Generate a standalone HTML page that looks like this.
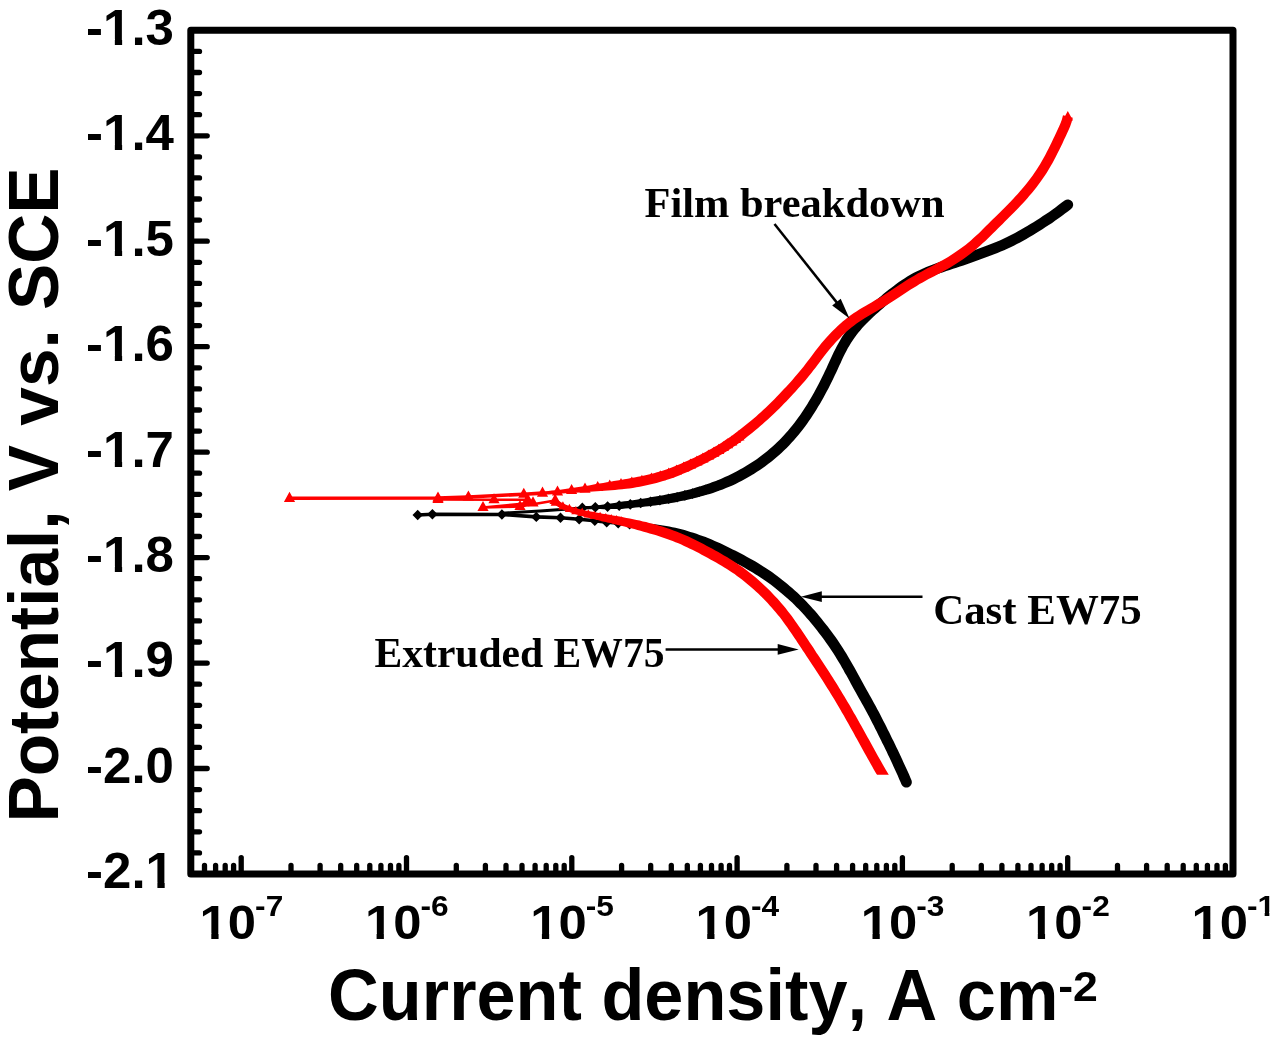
<!DOCTYPE html>
<html lang="en"><head><meta charset="utf-8">
<title>Potentiodynamic polarisation curves</title>
<style>
html,body{margin:0;padding:0;background:#fff;}
body{width:1280px;height:1037px;overflow:hidden;}
svg{display:block;filter:blur(0.35px);}
.sans{font-kerning:none;font-family:"Liberation Sans",Arial,Helvetica,sans-serif;font-weight:bold;fill:#000;}
.serif{font-family:"Liberation Serif","Times New Roman",Times,serif;font-weight:bold;fill:#000;}
</style></head><body>
<svg width="1280" height="1037" viewBox="0 0 1280 1037">
<rect x="0" y="0" width="1280" height="1037" fill="#ffffff"/>
<g stroke="#000" stroke-width="5.3" stroke-linecap="round" fill="none">
<line x1="190.8" y1="51.4" x2="199.5" y2="51.4"/>
<line x1="190.8" y1="72.5" x2="199.5" y2="72.5"/>
<line x1="190.8" y1="93.6" x2="199.5" y2="93.6"/>
<line x1="190.8" y1="114.7" x2="199.5" y2="114.7"/>
<line x1="190.8" y1="135.8" x2="207.2" y2="135.8"/>
<line x1="190.8" y1="156.9" x2="199.5" y2="156.9"/>
<line x1="190.8" y1="177.9" x2="199.5" y2="177.9"/>
<line x1="190.8" y1="199" x2="199.5" y2="199"/>
<line x1="190.8" y1="220.1" x2="199.5" y2="220.1"/>
<line x1="190.8" y1="241.2" x2="207.2" y2="241.2"/>
<line x1="190.8" y1="262.3" x2="199.5" y2="262.3"/>
<line x1="190.8" y1="283.4" x2="199.5" y2="283.4"/>
<line x1="190.8" y1="304.5" x2="199.5" y2="304.5"/>
<line x1="190.8" y1="325.6" x2="199.5" y2="325.6"/>
<line x1="190.8" y1="346.7" x2="207.2" y2="346.7"/>
<line x1="190.8" y1="367.8" x2="199.5" y2="367.8"/>
<line x1="190.8" y1="388.9" x2="199.5" y2="388.9"/>
<line x1="190.8" y1="410" x2="199.5" y2="410"/>
<line x1="190.8" y1="431.1" x2="199.5" y2="431.1"/>
<line x1="190.8" y1="452.2" x2="207.2" y2="452.2"/>
<line x1="190.8" y1="473.2" x2="199.5" y2="473.2"/>
<line x1="190.8" y1="494.3" x2="199.5" y2="494.3"/>
<line x1="190.8" y1="515.4" x2="199.5" y2="515.4"/>
<line x1="190.8" y1="536.5" x2="199.5" y2="536.5"/>
<line x1="190.8" y1="557.6" x2="207.2" y2="557.6"/>
<line x1="190.8" y1="578.7" x2="199.5" y2="578.7"/>
<line x1="190.8" y1="599.8" x2="199.5" y2="599.8"/>
<line x1="190.8" y1="620.9" x2="199.5" y2="620.9"/>
<line x1="190.8" y1="642" x2="199.5" y2="642"/>
<line x1="190.8" y1="663.1" x2="207.2" y2="663.1"/>
<line x1="190.8" y1="684.2" x2="199.5" y2="684.2"/>
<line x1="190.8" y1="705.3" x2="199.5" y2="705.3"/>
<line x1="190.8" y1="726.4" x2="199.5" y2="726.4"/>
<line x1="190.8" y1="747.4" x2="199.5" y2="747.4"/>
<line x1="190.8" y1="768.5" x2="207.2" y2="768.5"/>
<line x1="190.8" y1="789.6" x2="199.5" y2="789.6"/>
<line x1="190.8" y1="810.7" x2="199.5" y2="810.7"/>
<line x1="190.8" y1="831.8" x2="199.5" y2="831.8"/>
<line x1="190.8" y1="852.9" x2="199.5" y2="852.9"/>
<line x1="204.5" y1="874" x2="204.5" y2="865.4"/>
<line x1="215.6" y1="874" x2="215.6" y2="865.4"/>
<line x1="225.2" y1="874" x2="225.2" y2="865.4"/>
<line x1="233.6" y1="874" x2="233.6" y2="865.4"/>
<line x1="241.2" y1="874" x2="241.2" y2="857.6"/>
<line x1="291" y1="874" x2="291" y2="865.4"/>
<line x1="320.1" y1="874" x2="320.1" y2="865.4"/>
<line x1="340.7" y1="874" x2="340.7" y2="865.4"/>
<line x1="356.7" y1="874" x2="356.7" y2="865.4"/>
<line x1="369.8" y1="874" x2="369.8" y2="865.4"/>
<line x1="380.9" y1="874" x2="380.9" y2="865.4"/>
<line x1="390.5" y1="874" x2="390.5" y2="865.4"/>
<line x1="398.9" y1="874" x2="398.9" y2="865.4"/>
<line x1="406.5" y1="874" x2="406.5" y2="857.6"/>
<line x1="456.3" y1="874" x2="456.3" y2="865.4"/>
<line x1="485.4" y1="874" x2="485.4" y2="865.4"/>
<line x1="506" y1="874" x2="506" y2="865.4"/>
<line x1="522" y1="874" x2="522" y2="865.4"/>
<line x1="535.1" y1="874" x2="535.1" y2="865.4"/>
<line x1="546.2" y1="874" x2="546.2" y2="865.4"/>
<line x1="555.8" y1="874" x2="555.8" y2="865.4"/>
<line x1="564.2" y1="874" x2="564.2" y2="865.4"/>
<line x1="571.8" y1="874" x2="571.8" y2="857.6"/>
<line x1="621.6" y1="874" x2="621.6" y2="865.4"/>
<line x1="650.7" y1="874" x2="650.7" y2="865.4"/>
<line x1="671.3" y1="874" x2="671.3" y2="865.4"/>
<line x1="687.3" y1="874" x2="687.3" y2="865.4"/>
<line x1="700.4" y1="874" x2="700.4" y2="865.4"/>
<line x1="711.5" y1="874" x2="711.5" y2="865.4"/>
<line x1="721.1" y1="874" x2="721.1" y2="865.4"/>
<line x1="729.5" y1="874" x2="729.5" y2="865.4"/>
<line x1="737.1" y1="874" x2="737.1" y2="857.6"/>
<line x1="786.9" y1="874" x2="786.9" y2="865.4"/>
<line x1="816" y1="874" x2="816" y2="865.4"/>
<line x1="836.6" y1="874" x2="836.6" y2="865.4"/>
<line x1="852.6" y1="874" x2="852.6" y2="865.4"/>
<line x1="865.7" y1="874" x2="865.7" y2="865.4"/>
<line x1="876.8" y1="874" x2="876.8" y2="865.4"/>
<line x1="886.4" y1="874" x2="886.4" y2="865.4"/>
<line x1="894.8" y1="874" x2="894.8" y2="865.4"/>
<line x1="902.4" y1="874" x2="902.4" y2="857.6"/>
<line x1="952.2" y1="874" x2="952.2" y2="865.4"/>
<line x1="981.3" y1="874" x2="981.3" y2="865.4"/>
<line x1="1001.9" y1="874" x2="1001.9" y2="865.4"/>
<line x1="1017.9" y1="874" x2="1017.9" y2="865.4"/>
<line x1="1031" y1="874" x2="1031" y2="865.4"/>
<line x1="1042.1" y1="874" x2="1042.1" y2="865.4"/>
<line x1="1051.7" y1="874" x2="1051.7" y2="865.4"/>
<line x1="1060.1" y1="874" x2="1060.1" y2="865.4"/>
<line x1="1067.7" y1="874" x2="1067.7" y2="857.6"/>
<line x1="1117.5" y1="874" x2="1117.5" y2="865.4"/>
<line x1="1146.6" y1="874" x2="1146.6" y2="865.4"/>
<line x1="1167.2" y1="874" x2="1167.2" y2="865.4"/>
<line x1="1183.2" y1="874" x2="1183.2" y2="865.4"/>
<line x1="1196.3" y1="874" x2="1196.3" y2="865.4"/>
<line x1="1207.4" y1="874" x2="1207.4" y2="865.4"/>
<line x1="1217" y1="874" x2="1217" y2="865.4"/>
<line x1="1225.4" y1="874" x2="1225.4" y2="865.4"/>
</g>
<rect x="190.8" y="30.3" width="1042.2" height="843.7" fill="none" stroke="#000" stroke-width="7.0" stroke-linejoin="round"/>
<g class="sans" font-size="49.2" text-anchor="end">
<text transform="translate(174 44.6) scale(1.037 1)">-1.3</text>
<text transform="translate(174 150.1) scale(1.037 1)">-1.4</text>
<text transform="translate(174 255.5) scale(1.037 1)">-1.5</text>
<text transform="translate(174 361) scale(1.037 1)">-1.6</text>
<text transform="translate(174 466.5) scale(1.037 1)">-1.7</text>
<text transform="translate(174 571.9) scale(1.037 1)">-1.8</text>
<text transform="translate(174 677.4) scale(1.037 1)">-1.9</text>
<text transform="translate(174 782.8) scale(1.037 1)">-2.0</text>
<text transform="translate(174 888.3) scale(1.037 1)">-2.1</text>
</g>
<g class="sans">
<text font-size="48.6" transform="translate(199.6 939.0) scale(1.045 1)">10</text>
<text font-size="29.6" transform="translate(255.1 915.5) scale(1.07 1)">-7</text>
<text font-size="48.6" transform="translate(364.9 939.0) scale(1.045 1)">10</text>
<text font-size="29.6" transform="translate(420.4 915.5) scale(1.07 1)">-6</text>
<text font-size="48.6" transform="translate(530.2 939.0) scale(1.045 1)">10</text>
<text font-size="29.6" transform="translate(585.7 915.5) scale(1.07 1)">-5</text>
<text font-size="48.6" transform="translate(695.5 939.0) scale(1.045 1)">10</text>
<text font-size="29.6" transform="translate(751 915.5) scale(1.07 1)">-4</text>
<text font-size="48.6" transform="translate(860.8 939.0) scale(1.045 1)">10</text>
<text font-size="29.6" transform="translate(916.3 915.5) scale(1.07 1)">-3</text>
<text font-size="48.6" transform="translate(1026.1 939.0) scale(1.045 1)">10</text>
<text font-size="29.6" transform="translate(1081.6 915.5) scale(1.07 1)">-2</text>
<text font-size="48.6" transform="translate(1191.4 939.0) scale(1.045 1)">10</text>
<text font-size="29.6" transform="translate(1246.9 915.5) scale(1.07 1)">-1</text>
</g>
<g fill="#fff" stroke="none">
<rect x="104.61" y="38.98" width="10.23" height="6.62"/>
<rect x="122.13" y="38.98" width="9.66" height="6.62"/>
<rect x="104.61" y="144.44" width="10.23" height="6.62"/>
<rect x="122.13" y="144.44" width="9.66" height="6.62"/>
<rect x="104.61" y="249.90" width="10.23" height="6.62"/>
<rect x="122.13" y="249.90" width="9.66" height="6.62"/>
<rect x="104.61" y="355.36" width="10.23" height="6.62"/>
<rect x="122.13" y="355.36" width="9.66" height="6.62"/>
<rect x="104.61" y="460.83" width="10.23" height="6.62"/>
<rect x="122.13" y="460.83" width="9.66" height="6.62"/>
<rect x="104.61" y="566.29" width="10.23" height="6.62"/>
<rect x="122.13" y="566.29" width="9.66" height="6.62"/>
<rect x="104.61" y="671.75" width="10.23" height="6.62"/>
<rect x="122.13" y="671.75" width="9.66" height="6.62"/>
<rect x="147.16" y="882.68" width="10.23" height="6.62"/>
<rect x="164.68" y="882.68" width="9.66" height="6.62"/>
<rect x="201.12" y="933.44" width="10.18" height="6.56"/>
<rect x="218.57" y="933.44" width="9.62" height="6.56"/>
<rect x="366.42" y="933.44" width="10.18" height="6.56"/>
<rect x="383.87" y="933.44" width="9.62" height="6.56"/>
<rect x="531.72" y="933.44" width="10.18" height="6.56"/>
<rect x="549.17" y="933.44" width="9.62" height="6.56"/>
<rect x="697.02" y="933.44" width="10.18" height="6.56"/>
<rect x="714.47" y="933.44" width="9.62" height="6.56"/>
<rect x="862.32" y="933.44" width="10.18" height="6.56"/>
<rect x="879.77" y="933.44" width="9.62" height="6.56"/>
<rect x="1027.62" y="933.44" width="10.18" height="6.56"/>
<rect x="1045.07" y="933.44" width="9.62" height="6.56"/>
<rect x="1192.92" y="933.44" width="10.18" height="6.56"/>
<rect x="1210.37" y="933.44" width="9.62" height="6.56"/>
<rect x="1258.39" y="911.88" width="6.29" height="4.62"/>
<rect x="1269.33" y="911.88" width="6.00" height="4.62"/>
</g>
<text class="sans" font-size="72.6" transform="translate(328.1 1020.2) scale(0.9683 1)">Current density, A cm</text>
<text class="sans" font-size="42.5" transform="translate(1058.2 1001) scale(1.05 1)">-2</text>
<text class="sans" font-size="70.5" transform="translate(58.4 822.6) rotate(-90) scale(0.984 1)">Potential, V vs. SCE</text>
<g id="cast" fill="#000" stroke="none">
<path d="M417.7 515L432.4 514.2L501.9 514.5L536.3 516.9L560.5 517.7L579.2 519.2L594.8 520.8" fill="none" stroke="#000" stroke-width="3.6" stroke-linejoin="round"/>
<path d="M501.9 513.2L540 511L582.3 507.9" fill="none" stroke="#000" stroke-width="3.0" stroke-linejoin="round"/>
<path d="M582.4 509.5L585.4 509.4L589 509.3L592.8 509.2L596.6 509.1L600.2 509.1L603.9 509.2L607.5 509.2L611.1 509.1L614.7 509.1L618.3 509L621.8 508.9L625.2 508.6L628.7 508.3L632.1 508L635.5 507.6L638.8 507.3L642.1 506.9L645.3 506.6L648.6 506.2L651.8 505.8L655 505.4L658.2 505L661.5 504.5L664.7 504L668 503.5L671.2 502.9L674.5 502.4L677.8 501.7L681 501.1L684.3 500.4L687.5 499.7L690.7 499L693.9 498.3L697.1 497.5L700.2 496.6L703.4 495.8L706.6 494.8L709.8 493.9L713 492.9L716.2 491.8L719.5 490.6L722.7 489.4L726 488.1L729.2 486.8L732.4 485.4L735.6 483.9L738.8 482.3L741.9 480.7L745 479L748.1 477.3L751.1 475.5L754.1 473.7L757 471.8L759.9 469.9L762.8 467.9L765.6 465.9L768.4 463.8L771.2 461.7L773.9 459.5L776.5 457.3L779.2 455L781.7 452.7L784.2 450.3L786.7 447.9L789.1 445.4L791.5 442.8L793.9 440.3L796.2 437.6L798.4 434.9L800.6 432.2L802.8 429.5L804.9 426.7L806.9 423.9L808.9 421L810.9 418.2L812.8 415.3L814.6 412.5L816.5 409.6L818.2 406.6L820 403.7L821.7 400.7L823.4 397.7L825.1 394.6L826.7 391.6L828.4 388.4L830 385.3L831.6 382.1L833.1 378.9L834.7 375.6L836.2 372.4L837.7 369.2L839.1 366L840.6 362.9L842 359.8L843.4 356.7L844.9 353.8L846.4 350.9L847.9 348.1L849.5 345.4L851.1 342.8L852.8 340.2L854.5 337.7L856.3 335.2L858.2 332.8L860.2 330.4L862.2 328.1L864.3 325.8L866.5 323.5L868.8 321.3L871.1 319L873.4 316.8L875.8 314.6L878.2 312.5L880.7 310.3L883.1 308.2L885.5 306.1L888 304.1L890.4 302.1L892.8 300.2L895.2 298.2L897.7 296.3L900.1 294.5L902.6 292.7L905.1 290.9L907.6 289.1L910.2 287.4L912.9 285.7L915.7 284.1L918.5 282.5L921.4 281L924.3 279.5L927.3 278.2L930.4 276.9L933.5 275.6L936.6 274.4L939.8 273.3L943.1 272.2L946.3 271.1L949.7 269.9L953.1 268.8L956.5 267.7L960 266.5L963.4 265.4L966.9 264.2L970.4 263L973.8 261.7L977.2 260.5L980.6 259.3L984 258L987.4 256.8L990.8 255.5L994.1 254.2L997.5 252.9L1000.8 251.6L1004.1 250.2L1007.3 248.7L1010.6 247.2L1013.8 245.7L1016.9 244.1L1020.1 242.4L1023.2 240.7L1026.4 238.9L1029.6 237.1L1032.7 235.2L1035.9 233.2L1039.1 231.3L1042.4 229.2L1045.6 227.1L1048.8 225L1052.1 222.9L1055.3 220.6L1058.6 218.3L1061.8 216L1065 213.6L1068.2 211.2L1071 209.1A5.3 5.3 0 0 0 1064.6 200.5L1061.8 202.6L1058.5 205L1055.4 207.4L1052.3 209.7L1049.2 211.9L1046.1 214L1042.9 216.1L1039.8 218.2L1036.6 220.2L1033.5 222.2L1030.4 224.1L1027.2 226L1024.1 227.8L1021.1 229.6L1018 231.3L1015 233L1012 234.6L1009 236.1L1006 237.6L1002.9 239L999.8 240.4L996.7 241.7L993.5 243L990.3 244.3L987 245.5L983.7 246.8L980.3 248L977 249.2L973.6 250.4L970.2 251.7L966.8 252.9L963.4 254.1L960 255.2L956.5 256.4L953.1 257.5L949.7 258.7L946.3 259.8L942.9 260.9L939.6 262L936.2 263.2L932.9 264.4L929.6 265.7L926.3 267L923 268.4L919.8 269.9L916.5 271.4L913.4 273.1L910.3 274.8L907.3 276.5L904.4 278.4L901.6 280.2L898.9 282.1L896.2 284L893.7 285.9L891.1 287.9L888.6 289.8L886.1 291.8L883.6 293.8L881.2 295.9L878.7 298L876.2 300.1L873.6 302.3L871.1 304.5L868.6 306.7L866.1 309L863.7 311.3L861.3 313.7L858.9 316L856.5 318.5L854.3 321L852 323.5L849.9 326.1L847.8 328.7L845.8 331.4L843.9 334.2L842 337L840.3 339.9L838.6 342.9L836.9 345.9L835.4 349L833.8 352.1L832.3 355.2L830.8 358.4L829.4 361.6L827.9 364.8L826.5 367.9L825 371.1L823.5 374.2L822 377.3L820.4 380.4L818.9 383.5L817.3 386.5L815.7 389.5L814.1 392.5L812.4 395.4L810.8 398.3L809.1 401.1L807.4 403.9L805.6 406.7L803.8 409.5L802 412.2L800.2 414.9L798.3 417.6L796.3 420.3L794.3 422.9L792.3 425.6L790.2 428.1L788 430.7L785.9 433.1L783.7 435.6L781.4 438L779.2 440.3L776.8 442.6L774.5 444.8L772 447L769.6 449.1L767.1 451.2L764.5 453.3L761.9 455.3L759.3 457.3L756.7 459.2L754 461L751.2 462.8L748.4 464.6L745.6 466.3L742.8 468L739.9 469.6L736.9 471.2L734 472.8L731 474.2L728 475.7L724.9 477.1L721.9 478.4L718.9 479.7L715.8 480.9L712.7 482.1L709.7 483.2L706.7 484.3L703.6 485.3L700.6 486.2L697.5 487.1L694.5 488L691.5 488.9L688.4 489.7L685.3 490.5L682.2 491.2L679.1 492L675.9 492.7L672.8 493.3L669.6 494L666.4 494.6L663.2 495.2L660.1 495.8L656.9 496.3L653.7 496.8L650.6 497.3L647.4 497.9L644.2 498.4L641 498.9L637.8 499.4L634.5 499.9L631.2 500.4L627.8 500.9L624.4 501.3L621 501.8L617.6 502.4L614.2 503L610.7 503.5L607.2 504L603.6 504.5L600 505L596.4 505.4L592.7 505.7L588.9 505.9L585.2 506.1L582.2 506.3Z"/>
<path d="M594.6 522.5L597.1 522.8L600.3 523.2L603.6 523.6L607 524L610.3 524.3L613.6 524.6L616.9 525L620.2 525.3L623.4 525.7L626.7 526L629.9 526.4L633.2 526.8L636.4 527.3L639.7 527.8L642.9 528.3L646.1 528.8L649.3 529.4L652.4 530.1L655.5 530.7L658.6 531.5L661.6 532.2L664.6 533L667.5 533.8L670.4 534.7L673.3 535.6L676.1 536.5L679 537.5L681.8 538.5L684.6 539.6L687.4 540.7L690.2 541.8L693 542.9L695.9 544.1L698.7 545.4L701.6 546.6L704.5 547.9L707.4 549.3L710.4 550.6L713.3 552L716.2 553.4L719.2 554.8L722.1 556.2L725 557.6L727.9 559L730.7 560.5L733.6 561.9L736.3 563.4L739.1 564.8L741.9 566.3L744.6 567.8L747.3 569.4L750 570.9L752.7 572.5L755.3 574.2L757.9 575.8L760.5 577.5L763.1 579.2L765.7 581L768.2 582.8L770.7 584.6L773.2 586.5L775.7 588.4L778.1 590.4L780.5 592.4L782.9 594.4L785.2 596.4L787.6 598.5L789.8 600.5L792.1 602.6L794.3 604.7L796.4 606.9L798.6 609L800.7 611.2L802.8 613.5L804.8 615.8L806.9 618.2L809 620.6L811 623.1L813.1 625.6L815.1 628.1L817.1 630.6L819.1 633.2L821.1 635.7L823 638.3L824.8 640.8L826.7 643.4L828.5 646L830.2 648.5L832 651.2L833.7 653.8L835.4 656.5L837 659.2L838.7 661.9L840.3 664.6L841.9 667.4L843.4 670.1L844.9 672.9L846.5 675.6L848 678.3L849.5 681L850.9 683.7L852.4 686.5L853.9 689.2L855.5 691.9L857 694.7L858.5 697.4L860.1 700.2L861.6 703L863.2 705.8L864.7 708.6L866.3 711.4L867.8 714.3L869.3 717.1L870.8 720L872.3 722.9L873.8 725.8L875.2 728.7L876.7 731.6L878.1 734.5L879.6 737.4L881 740.3L882.4 743.2L883.9 746.1L885.3 749L886.7 751.8L888 754.7L889.4 757.6L890.8 760.5L892.2 763.5L893.5 766.4L894.9 769.4L896.3 772.4L897.7 775.5L899.1 778.9L900.5 782L901.4 784.3A5.4 5.4 0 0 0 911.4 780.1L910.4 777.8L909.1 774.6L907.5 771.1L906.1 767.9L904.7 764.9L903.3 761.9L902 758.9L900.6 755.9L899.2 753L897.8 750.1L896.4 747.2L895 744.3L893.6 741.3L892.1 738.4L890.7 735.5L889.3 732.6L887.8 729.7L886.4 726.7L884.9 723.8L883.4 720.9L881.9 717.9L880.4 715L878.9 712.1L877.3 709.2L875.8 706.3L874.2 703.4L872.6 700.6L871.1 697.8L869.5 695L868 692.2L866.4 689.4L864.9 686.7L863.4 684L861.9 681.2L860.4 678.5L858.9 675.8L857.4 673.1L855.9 670.3L854.4 667.6L852.8 664.8L851.2 662L849.6 659.2L848 656.4L846.3 653.6L844.5 650.8L842.8 648L841 645.2L839.2 642.5L837.4 639.8L835.5 637.1L833.6 634.5L831.6 631.8L829.7 629.2L827.7 626.6L825.6 624L823.6 621.4L821.5 618.8L819.4 616.2L817.2 613.6L815.1 611.1L812.9 608.7L810.7 606.2L808.6 603.9L806.3 601.5L804.1 599.2L801.8 597L799.5 594.8L797.2 592.6L794.8 590.4L792.4 588.3L789.9 586.2L787.4 584.1L784.9 582L782.3 580L779.8 577.9L777.2 576L774.5 574L771.9 572.1L769.2 570.3L766.5 568.5L763.7 566.7L761 565L758.3 563.3L755.5 561.6L752.7 560L749.9 558.4L747.1 556.9L744.2 555.3L741.4 553.8L738.5 552.3L735.6 550.8L732.7 549.4L729.8 547.9L726.8 546.5L723.8 545L720.8 543.6L717.8 542.2L714.7 540.9L711.7 539.6L708.6 538.3L705.6 537.1L702.5 536L699.5 534.9L696.5 533.8L693.4 532.8L690.4 531.9L687.5 531L684.5 530.1L681.5 529.3L678.4 528.5L675.4 527.8L672.4 527.2L669.3 526.5L666.2 526L663 525.4L659.8 524.9L656.6 524.5L653.4 524.1L650.1 523.7L646.8 523.4L643.5 523.1L640.2 522.8L636.9 522.6L633.6 522.4L630.3 522.2L627 522L623.8 521.8L620.5 521.6L617.2 521.3L613.9 521.1L610.6 520.9L607.4 520.6L604 520.2L600.7 519.8L597.6 519.4L595 519.1Z"/>
<path d="M577 507.9L582.3 502.6L587.6 507.9L582.3 513.2ZM590 507.3L595.3 502L600.6 507.3L595.3 512.6ZM602.3 506.6L607.6 501.3L612.9 506.6L607.6 511.9ZM613.9 505.6L619.2 500.3L624.5 505.6L619.2 510.9ZM625 504.4L630.3 499.1L635.6 504.4L630.3 509.7ZM635.4 503L640.7 497.7L646 503L640.7 508.3ZM645.3 501.7L650.6 496.4L655.9 501.7L650.6 507ZM654.6 500.3L659.9 495L665.2 500.3L659.9 505.6ZM663.4 498.8L668.7 493.5L674 498.8L668.7 504.1ZM671.8 497.2L677.1 491.9L682.4 497.2L677.1 502.5ZM679.6 495.4L684.9 490.1L690.2 495.4L684.9 500.7ZM687.1 493.6L692.4 488.3L697.7 493.6L692.4 498.9ZM694.1 491.8L699.4 486.5L704.7 491.8L699.4 497.1ZM700.6 489.8L705.9 484.5L711.2 489.8L705.9 495.1ZM706.8 487.8L712.1 482.5L717.4 487.8L712.1 493.1ZM712.6 485.7L717.9 480.4L723.2 485.7L717.9 491ZM718.1 483.5L723.4 478.2L728.7 483.5L723.4 488.8ZM723.2 481.3L728.5 476L733.8 481.3L728.5 486.6ZM728 479.1L733.3 473.8L738.6 479.1L733.3 484.4ZM732.4 476.8L737.7 471.5L743 476.8L737.7 482.1ZM736.6 474.6L741.9 469.3L747.2 474.6L741.9 479.9ZM740.5 472.4L745.8 467.1L751.1 472.4L745.8 477.7ZM412.5 515L417.7 509.8L422.9 515L417.7 520.2ZM427.2 514.2L432.4 509L437.6 514.2L432.4 519.4ZM496.7 514.5L501.9 509.3L507.1 514.5L501.9 519.7ZM531.1 516.9L536.3 511.7L541.5 516.9L536.3 522.1ZM555.3 517.7L560.5 512.5L565.7 517.7L560.5 522.9ZM574 519.2L579.2 514L584.4 519.2L579.2 524.4ZM589.6 520.8L594.8 515.6L600 520.8L594.8 526ZM601.5 522.2L606.7 517L611.9 522.2L606.7 527.4ZM613 523.2L618.2 518L623.4 523.2L618.2 528.4ZM624.4 524.3L629.6 519.1L634.8 524.3L629.6 529.5Z"/>
</g>
<g id="extruded" fill="#ff0000" stroke="none">
<path d="M289.5 498.3L438 498L468.4 497L523.8 494.2L542.5 493.1" fill="none" stroke="#ff0000" stroke-width="3.6" stroke-linejoin="round"/>
<path d="M438 499.5L494 499.7L527.7 499.7L533 502.8L483 507.5L520 506.5L555 500.5L556.2 502.1" fill="none" stroke="#ff0000" stroke-width="2.6" stroke-linejoin="round"/>
<path d="M542.6 494.8L545.2 494.6L548.7 494.4L552.1 494.2L555.5 494L558.8 493.7L562.2 493.5L565.5 493.3L568.9 493.1L572.3 492.9L575.7 492.7L579.2 492.5L582.6 492.2L586.2 492L589.7 491.8L593.3 491.5L596.9 491.3L600.5 491L604.2 490.7L607.8 490.4L611.4 490.2L615 489.9L618.6 489.5L622.2 489.2L625.7 488.8L629.3 488.4L632.8 487.9L636.3 487.3L639.8 486.7L643.2 486.1L646.6 485.3L649.9 484.6L653.2 483.8L656.5 483L659.8 482.1L663 481.1L666.3 480.1L669.5 479L672.7 477.9L675.9 476.7L679.1 475.4L682.3 474.1L685.5 472.8L688.6 471.4L691.8 469.9L694.9 468.5L698 467L701.1 465.5L704.1 464L707.2 462.4L710.3 460.8L713.3 459.2L716.3 457.5L719.3 455.8L722.3 454L725.2 452.3L728.1 450.4L731 448.5L733.9 446.6L736.7 444.7L739.4 442.7L742.2 440.7L744.9 438.7L747.5 436.6L750.1 434.5L752.7 432.4L755.3 430.3L757.8 428.2L760.3 426.1L762.7 424L765.1 421.8L767.5 419.7L769.9 417.5L772.3 415.3L774.7 413L777 410.7L779.4 408.4L781.8 406L784.1 403.6L786.5 401.2L788.8 398.7L791.1 396.2L793.4 393.7L795.8 391.2L798.1 388.6L800.4 386.1L802.6 383.5L804.9 380.9L807.1 378.2L809.3 375.6L811.4 373L813.4 370.3L815.5 367.7L817.5 365L819.4 362.4L821.4 359.8L823.3 357.2L825.2 354.7L827.2 352.2L829.2 349.7L831.3 347.3L833.4 344.9L835.5 342.5L837.7 340.2L840 337.9L842.2 335.6L844.5 333.4L846.9 331.3L849.3 329.3L851.7 327.3L854.1 325.4L856.6 323.5L859.2 321.7L861.9 320L864.6 318.2L867.5 316.5L870.5 314.8L873.5 313L876.6 311.2L879.8 309.3L883 307.4L886.1 305.4L889.3 303.5L892.5 301.4L895.6 299.4L898.7 297.4L901.7 295.4L904.7 293.4L907.7 291.4L910.7 289.5L913.7 287.7L916.7 285.9L919.6 284.1L922.6 282.4L925.6 280.8L928.6 279.1L931.7 277.5L934.7 275.9L937.8 274.3L940.8 272.7L943.9 271L947.1 269.2L950.2 267.4L953.3 265.5L956.5 263.6L959.6 261.6L962.7 259.5L965.8 257.3L968.8 255.1L971.8 252.8L974.7 250.5L977.5 248.1L980.3 245.6L982.9 243.1L985.6 240.7L988.1 238.2L990.6 235.7L993.1 233.3L995.5 230.9L997.9 228.5L1000.2 226.2L1002.6 223.9L1004.9 221.6L1007.2 219.3L1009.4 217.1L1011.7 214.8L1014 212.6L1016.2 210.3L1018.4 207.9L1020.7 205.6L1022.9 203.2L1025.2 200.7L1027.4 198.2L1029.6 195.6L1031.9 192.9L1034.1 190.2L1036.3 187.4L1038.5 184.5L1040.7 181.6L1042.8 178.6L1044.9 175.5L1046.9 172.4L1048.8 169.3L1050.7 166.1L1052.5 162.9L1054.2 159.7L1055.9 156.5L1057.5 153.2L1059.2 150L1060.8 146.7L1062.4 143.4L1063.9 140.1L1065.5 136.8L1067 133.5L1068.6 130L1070.1 126.4L1071.5 122.4L1072.8 117.8L1063 115.2L1061.9 119.4L1060.7 122.8L1059.3 126L1057.8 129.2L1056.3 132.5L1054.8 135.8L1053.2 139.1L1051.7 142.3L1050.1 145.5L1048.5 148.7L1046.9 151.8L1045.3 154.9L1043.6 158L1041.9 161.1L1040.2 164.1L1038.3 167L1036.4 170L1034.5 172.8L1032.5 175.7L1030.4 178.5L1028.3 181.2L1026.2 183.9L1024.1 186.5L1022 189L1019.8 191.5L1017.7 194L1015.5 196.3L1013.3 198.7L1011.2 201L1009 203.2L1006.8 205.5L1004.6 207.7L1002.3 209.9L1000.1 212.2L997.8 214.4L995.5 216.7L993.1 219L990.8 221.3L988.4 223.7L986 226.1L983.5 228.5L981.1 231L978.6 233.4L976 235.8L973.5 238.1L970.9 240.4L968.2 242.7L965.5 244.9L962.7 247L959.9 249.1L957 251.1L954.1 253.1L951.1 255L948.1 256.9L945.1 258.7L942 260.4L939 262.1L936 263.8L933 265.4L930 267L926.9 268.6L923.9 270.2L920.8 271.9L917.7 273.6L914.6 275.4L911.5 277.2L908.4 279.1L905.3 281L902.3 283L899.2 284.9L896.2 286.9L893.1 289L890.1 291L887 293L883.9 294.9L880.8 296.9L877.7 298.8L874.6 300.6L871.5 302.5L868.4 304.3L865.4 306L862.3 307.8L859.3 309.6L856.4 311.5L853.5 313.3L850.7 315.3L848 317.3L845.3 319.4L842.7 321.5L840.2 323.8L837.7 326L835.2 328.4L832.8 330.8L830.4 333.2L828.1 335.7L825.8 338.2L823.6 340.7L821.4 343.3L819.3 345.9L817.3 348.5L815.3 351.1L813.3 353.8L811.3 356.4L809.4 359L807.4 361.6L805.5 364.1L803.5 366.7L801.4 369.2L799.3 371.8L797.2 374.3L795 376.8L792.8 379.4L790.6 381.9L788.3 384.4L786 386.9L783.7 389.3L781.4 391.8L779.1 394.2L776.9 396.6L774.6 398.9L772.3 401.2L770 403.5L767.7 405.7L765.4 407.9L763.1 410L760.8 412.2L758.4 414.3L756.1 416.4L753.7 418.4L751.3 420.5L748.8 422.5L746.3 424.6L743.8 426.6L741.3 428.6L738.7 430.6L736.1 432.6L733.5 434.5L730.8 436.4L728.2 438.3L725.4 440.1L722.7 441.9L719.9 443.7L717.1 445.4L714.2 447.1L711.4 448.7L708.4 450.3L705.5 451.9L702.6 453.4L699.6 455L696.6 456.4L693.6 457.9L690.6 459.3L687.6 460.8L684.5 462.1L681.4 463.5L678.4 464.8L675.3 466.1L672.3 467.3L669.2 468.4L666.2 469.5L663.2 470.5L660.1 471.4L657 472.3L654 473.2L650.8 474L647.6 474.8L644.4 475.5L641.2 476.2L637.9 476.8L634.5 477.5L631.2 478.1L627.8 478.7L624.4 479.3L620.9 479.9L617.4 480.5L613.9 481.1L610.4 481.7L606.8 482.3L603.2 482.9L599.6 483.5L596 484.1L592.5 484.7L588.9 485.4L585.4 485.9L582 486.5L578.6 487.1L575.2 487.6L571.8 488.1L568.4 488.6L565.1 489L561.8 489.5L558.5 489.9L555.2 490.3L551.8 490.6L548.4 490.9L545 491.2L542.4 491.4Z"/>
<clipPath id="rcut"><rect x="0" y="0" width="1280" height="774.8"/></clipPath>
<path d="M554.5 504.3L557.1 506.2L560.5 508.3L563.8 509.9L567.2 511.3L570.6 512.5L573.9 513.7L577.3 514.7L580.7 515.7L584.1 516.7L587.5 517.6L590.9 518.5L594.3 519.3L597.7 520.1L601.1 520.9L604.5 521.7L607.8 522.5L611.2 523.3L614.6 524.2L617.9 525L621.2 525.8L624.5 526.6L627.8 527.4L631 528.3L634.3 529.1L637.4 530L640.5 530.8L643.6 531.7L646.6 532.5L649.6 533.4L652.6 534.2L655.5 535.1L658.4 536L661.2 536.9L664.1 537.9L667 538.9L669.8 539.9L672.7 541L675.5 542.2L678.4 543.3L681.3 544.6L684.1 545.9L687 547.3L690 548.7L692.9 550.1L695.8 551.6L698.8 553.1L701.7 554.7L704.6 556.2L707.5 557.8L710.4 559.4L713.3 561L716.1 562.6L718.9 564.2L721.6 565.8L724.3 567.4L726.9 569.1L729.5 570.7L732.1 572.4L734.6 574.1L737 575.9L739.5 577.7L741.9 579.5L744.3 581.4L746.7 583.4L749.1 585.4L751.5 587.4L753.8 589.5L756.2 591.7L758.5 593.8L760.7 596.1L763 598.3L765.2 600.6L767.4 602.8L769.5 605.2L771.6 607.5L773.7 609.9L775.7 612.3L777.7 614.7L779.7 617.1L781.6 619.6L783.5 622.2L785.3 624.7L787.2 627.3L789 629.9L790.8 632.5L792.5 635.1L794.3 637.7L796.1 640.3L797.8 642.9L799.5 645.5L801.2 648.1L802.9 650.7L804.7 653.3L806.4 655.9L808.1 658.5L809.9 661.2L811.7 663.9L813.4 666.6L815.2 669.3L817 672.1L818.8 674.8L820.6 677.6L822.4 680.3L824.1 683L825.8 685.7L827.5 688.4L829.2 691.1L830.8 693.8L832.5 696.5L834.1 699.1L835.7 701.8L837.3 704.4L838.8 707.1L840.4 709.7L841.9 712.4L843.5 715.1L845 717.7L846.5 720.4L848 723L849.5 725.7L851 728.4L852.5 731L854 733.7L855.4 736.4L856.9 739.1L858.4 741.8L859.9 744.5L861.4 747.2L862.9 750L864.4 752.7L866 755.5L867.5 758.2L869.1 761L870.6 763.8L872.2 766.6L873.8 769.4L875.4 772.2L877.1 775L878.8 778L880.4 780.6L881.8 783.1L890.6 777.9L889.1 775.4L887.6 772.8L885.9 769.9L884.2 767.1L882.6 764.3L881.1 761.6L879.5 758.8L877.9 756L876.4 753.3L874.9 750.5L873.4 747.8L871.9 745.1L870.4 742.3L868.9 739.6L867.4 736.9L865.9 734.2L864.4 731.5L862.9 728.8L861.4 726.1L859.9 723.4L858.4 720.7L856.9 718L855.4 715.3L853.8 712.7L852.3 710L850.8 707.3L849.2 704.6L847.6 701.9L846 699.2L844.4 696.6L842.8 693.9L841.2 691.2L839.5 688.5L837.9 685.8L836.2 683L834.4 680.3L832.7 677.6L830.9 674.8L829.2 672L827.4 669.3L825.6 666.5L823.8 663.7L822 661L820.2 658.3L818.4 655.6L816.6 652.9L814.9 650.3L813.2 647.6L811.5 645L809.7 642.4L808 639.8L806.3 637.2L804.5 634.6L802.8 632L801 629.3L799.2 626.7L797.3 624L795.5 621.4L793.6 618.7L791.7 616.1L789.7 613.5L787.7 610.9L785.7 608.3L783.6 605.7L781.4 603.2L779.3 600.7L777.1 598.3L774.8 595.9L772.5 593.5L770.2 591.1L767.9 588.8L765.5 586.5L763.1 584.2L760.7 582L758.2 579.8L755.7 577.6L753.2 575.5L750.7 573.4L748.1 571.5L745.6 569.5L743 567.6L740.4 565.8L737.7 564L735.1 562.2L732.4 560.5L729.6 558.8L726.9 557.1L724 555.4L721.2 553.7L718.3 552.1L715.3 550.5L712.4 548.8L709.4 547.3L706.5 545.7L703.5 544.1L700.5 542.5L697.5 541L694.5 539.5L691.4 538.1L688.4 536.6L685.4 535.3L682.4 534L679.4 532.7L676.4 531.5L673.4 530.4L670.4 529.3L667.4 528.2L664.4 527.3L661.4 526.3L658.4 525.4L655.4 524.5L652.3 523.7L649.2 522.9L646.1 522.1L642.9 521.4L639.7 520.6L636.5 519.9L633.2 519.2L629.8 518.5L626.5 517.9L623.1 517.2L619.7 516.6L616.3 516L612.8 515.4L609.4 514.8L606 514.2L602.6 513.7L599.2 513.1L595.8 512.5L592.4 511.8L589 511.2L585.6 510.4L582.3 509.7L579 508.9L575.7 508L572.4 507L569.2 506L566.1 504.8L563.1 503.4L560.2 501.7L557.9 499.9Z" clip-path="url(#rcut)"/>
<path d="M536.9 496.7L542.5 486.6L548.1 496.7ZM551.9 495.5L557.5 485.4L563.1 495.5ZM566 494.1L571.6 484.1L577.2 494.1ZM579.4 492.7L585 482.6L590.6 492.7ZM592.1 491.1L597.7 481.1L603.3 491.1ZM604.1 489.7L609.7 479.6L615.3 489.7ZM615.4 488.2L621 478.1L626.6 488.2ZM626.2 486.6L631.8 476.5L637.4 486.6ZM636.3 484.8L641.9 474.7L647.5 484.8ZM645.8 482.6L651.4 472.6L657 482.6ZM654.7 480.2L660.3 470.2L665.9 480.2ZM663.1 477.5L668.7 467.5L674.3 477.5ZM670.9 474.6L676.5 464.6L682.1 474.6ZM678.1 471.6L683.7 461.5L689.3 471.6ZM684.9 468.6L690.5 458.5L696.1 468.6ZM691.3 465.5L696.9 455.5L702.5 465.5ZM697.3 462.6L702.9 452.5L708.5 462.6ZM702.9 459.6L708.5 449.5L714.1 459.6ZM708.2 456.7L713.8 446.7L719.4 456.7ZM713.1 453.9L718.7 443.8L724.3 453.9ZM717.7 451.1L723.3 441L728.9 451.1ZM722 448.3L727.6 438.2L733.2 448.3ZM726.1 445.6L731.7 435.5L737.3 445.6ZM729.8 443L735.4 432.9L741 443ZM733.3 440.4L738.9 430.3L744.5 440.4ZM1062.6 120.5L1067.8 111.1L1073 120.5ZM283.9 501.9L289.5 491.8L295.1 501.9ZM432.4 501.6L438 491.5L443.6 501.6ZM462.8 500.6L468.4 490.5L474 500.6ZM518.2 497.8L523.8 487.7L529.4 497.8ZM432.4 503.1L438 493L443.6 503.1ZM488.4 503.3L494 493.2L499.6 503.3ZM522.1 503.3L527.7 493.2L533.3 503.3ZM527.4 506.4L533 496.3L538.6 506.4ZM477.4 511.1L483 501L488.6 511.1ZM514.4 510.1L520 500L525.6 510.1ZM549.4 504.1L555 494L560.6 504.1ZM550.6 505.7L556.2 495.6L561.8 505.7ZM558.3 509.4L562.9 501.2L567.5 509.4ZM564.8 512.1L569.4 503.8L574 512.1ZM571.2 514.2L575.8 505.9L580.4 514.2ZM577.6 515.9L582.2 507.6L586.8 515.9ZM583.7 517.4L588.3 509.2L592.9 517.4ZM589.7 518.8L594.3 510.5L598.9 518.8ZM595.5 520L600.1 511.7L604.7 520ZM601.2 521.2L605.8 512.9L610.4 521.2ZM606.6 522.3L611.2 514L615.8 522.3ZM611.9 523.4L616.5 515.1L621.1 523.4ZM617 524.4L621.6 516.2L626.2 524.4Z"/>
</g>
<g class="serif" font-size="42.5">
<text x="644.5" y="217" textLength="300" lengthAdjust="spacingAndGlyphs">Film breakdown</text>
<text x="933.2" y="624" textLength="208.5" lengthAdjust="spacingAndGlyphs">Cast EW75</text>
<text x="374.5" y="667" textLength="290" lengthAdjust="spacingAndGlyphs">Extruded EW75</text>
</g>
<g id="arrows">
<line x1="774.5" y1="224" x2="837.7" y2="303.6" stroke="#000" stroke-width="2.5"/><path d="M849.5 318.5L832.2 305.4L840.7 298.7Z" fill="#000"/>
<line x1="922.5" y1="596.7" x2="819.8" y2="596.7" stroke="#000" stroke-width="2.5"/><path d="M800.8 596.7L821.8 591.3L821.8 602.1Z" fill="#000"/>
<line x1="665.6" y1="649.4" x2="779.7" y2="649.4" stroke="#000" stroke-width="2.5"/><path d="M798.7 649.4L777.7 654.8L777.7 644Z" fill="#000"/>
</g>
</svg>
</body></html>
